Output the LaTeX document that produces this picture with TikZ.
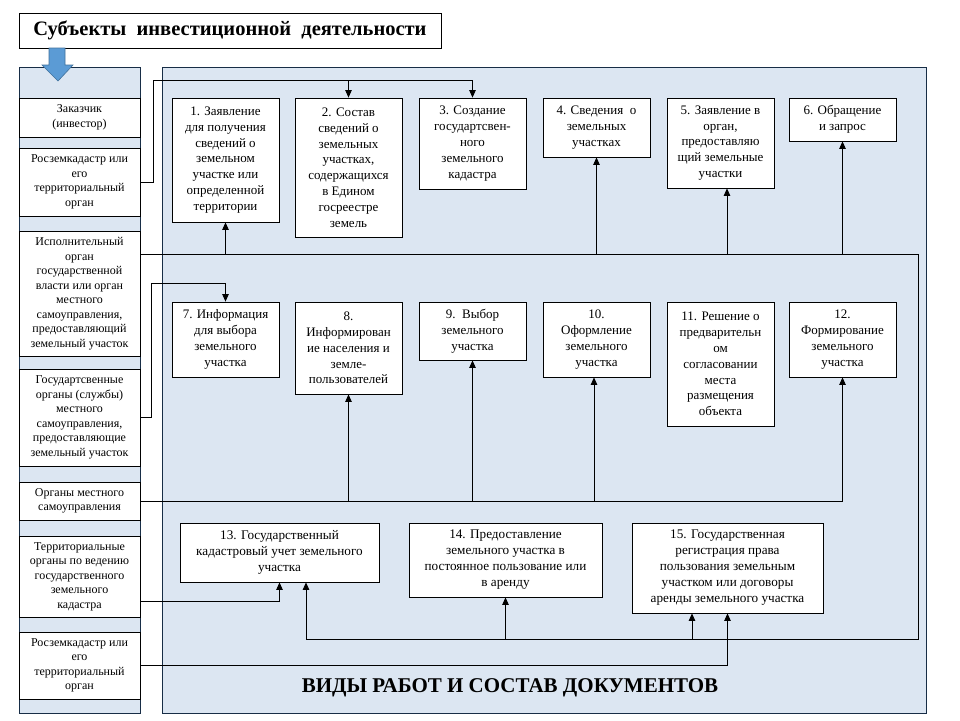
\documentclass[tikz,border=0pt]{standalone}
\usepackage{fontspec}
\setmainfont{Liberation Serif}
\usetikzlibrary{arrows.meta}
\definecolor{panelfill}{RGB}{220,230,242}
\definecolor{panelline}{RGB}{23,45,70}
\definecolor{arrfill}{RGB}{91,155,213}
\definecolor{arrline}{RGB}{65,113,156}
\begin{document}
\begin{tikzpicture}[x=1pt,y=-1pt,
  panel/.style={fill=panelfill,draw=panelline,line width=0.9pt},
  lbox/.style={draw=black,fill=white,line width=0.7pt,align=center,inner sep=0pt,minimum width=121pt,font=\fontsize{12}{14.5}\selectfont},
  wbox/.style={draw=black,fill=white,line width=0.8pt,align=center,inner sep=0pt,minimum width=107pt,font=\fontsize{13}{15.8}\selectfont},
  bbox/.style={draw=black,fill=white,line width=0.8pt,align=center,inner sep=0pt,font=\fontsize{13.2}{16}\selectfont},
  conn/.style={line width=0.8pt,draw=black},
  arr/.style={conn,-{Triangle[width=6.5pt,length=7.5pt]}}]
\useasboundingbox (0,0) rectangle (960,720);
\fill[white] (0,0) rectangle (960,720);
% panels
\draw[panel] (19,67) rectangle (140,713);
\draw[panel] (162,67) rectangle (926,713);
% title
\node[draw=black,fill=white,line width=0.8pt,minimum width=422pt,minimum height=35pt,inner sep=0pt,font=\bfseries\fontsize{20.5}{23}\selectfont] (T) at (230,30.5) {Субъекты\ \ инвестиционной\ \ деятельности};
\draw[fill=arrfill,draw=arrline,line width=0.6pt] (49,48) -- (65,48) -- (65,65) -- (73,65) -- (58,81) -- (42,65) -- (49,65) -- cycle;
% left boxes
\node[lbox,minimum height=39pt] (L1) at (79.5,117.5) {Заказчик\\(инвестор)};
\node[lbox,minimum height=68pt] (L2) at (79.5,182) {Росземкадастр или\\его\\территориальный\\орган};
\node[lbox,minimum height=125pt] (L3) at (79.5,293.5) {Исполнительный\\орган\\государственной\\власти или орган\\местного\\самоуправления,\\предоставляющий\\земельный участок};
\node[lbox,minimum height=97pt] (L4) at (79.5,417.5) {Государтсвенные\\органы (службы)\\местного\\самоуправления,\\предоставляющие\\земельный участок};
\node[lbox,minimum height=38pt] (L5) at (79.5,501) {Органы местного\\самоуправления};
\node[lbox,minimum height=81pt] (L6) at (79.5,576.5) {Территориальные\\органы по ведению\\государственного\\земельного\\кадастра};
\node[lbox,minimum height=67pt] (L7) at (79.5,665.5) {Росземкадастр или\\его\\территориальный\\орган};
% top row
\node[wbox,minimum height=124pt] (B1) at (225.5,160) {1. Заявление\\для получения\\сведений о\\земельном\\участке или\\определенной\\территории};
\node[wbox,minimum height=139pt] (B2) at (348.5,167.5) {2. Состав\\сведений о\\земельных\\участках,\\содержащихся\\в Едином\\госреестре\\земель};
\node[wbox,minimum height=91pt] (B3) at (472.5,143.5) {3. Создание\\государтсвен-\\ного\\земельного\\кадастра};
\node[wbox,minimum height=59pt] (B4) at (596.5,127.5) {4. Сведения\ \ о\\земельных\\участках};
\node[wbox,minimum height=90pt] (B5) at (720.5,143) {5. Заявление в\\орган,\\предоставляю\\щий земельные\\участки};
\node[wbox,minimum height=43pt] (B6) at (842.5,119.5) {6. Обращение\\и запрос};
% middle row
\node[wbox,minimum height=75pt] (B7) at (225.5,339.5) {7. Информация\\для выбора\\земельного\\участка};
\node[wbox,minimum height=92pt] (B8) at (348.5,348) {8.\\Информирован\\ие населения и\\земле-\\пользователей};
\node[wbox,minimum height=58pt] (B9) at (472.5,331) {9.\ \ Выбор\\земельного\\участка};
\node[wbox,minimum height=75pt] (B10) at (596.5,339.5) {10.\\Оформление\\земельного\\участка};
\node[wbox,minimum height=124pt] (B11) at (720.5,364) {11. Решение о\\предварительн\\ом\\согласовании\\места\\размещения\\объекта};
\node[wbox,minimum height=75pt] (B12) at (842.5,339.5) {12.\\Формирование\\земельного\\участка};
% bottom row
\node[bbox,minimum width=199pt,minimum height=59pt] (B13) at (279.5,552.5) {13. Государственный\\кадастровый учет земельного\\участка};
\node[bbox,minimum width=193pt,minimum height=74pt] (B14) at (505.5,560) {14. Предоставление\\земельного участка в\\постоянное пользование или\\в аренду};
\node[bbox,minimum width=191pt,minimum height=90pt] (B15) at (727.5,568) {15. Государственная\\регистрация права\\пользования земельным\\участком или договоры\\аренды земельного участка};
% bottom title
\node[font=\bfseries\fontsize{21}{24}\selectfont] (V) at (510,688) {ВИДЫ РАБОТ И СОСТАВ ДОКУМЕНТОВ};
% connectors
\coordinate (j1) at (153,80);
\draw[arr] (L2.east) -| (j1) -| (B3.north);
\draw[arr] (B2.north |- j1) -- (B2.north);
\coordinate (j2) at (918,254);
\coordinate (j3) at (918,639);
\coordinate (j4) at (306,639);
\draw[conn] (L3.east |- j2) -- (j2) -- (j3) -- (j4);
\draw[arr] (B1.south |- j2) -- (B1.south);
\draw[arr] (B4.south |- j2) -- (B4.south);
\draw[arr] ([xshift=6.5pt]B5.south |- j2) -- ([xshift=6.5pt]B5.south);
\draw[arr] (B6.south |- j2) -- (B6.south);
\draw[arr] (j4) -- (B13.south -| j4);
\draw[arr] (B14.south |- j4) -- (B14.south);
\draw[arr] ([xshift=-35.5pt]B15.south |- j4) -- ([xshift=-35.5pt]B15.south);
\coordinate (j5) at (151,283);
\draw[arr] (L4.east) -| (j5) -| (B7.north);
\draw[arr] (L5.east) -| (B12.south);
\draw[arr] (B8.south |- L5.east) -- (B8.south);
\draw[arr] (B9.south |- L5.east) -- (B9.south);
\draw[arr] ([xshift=-2.5pt]B10.south |- L5.east) -- ([xshift=-2.5pt]B10.south);
\coordinate (j6) at (279.5,601);
\draw[arr] (L6.east |- j6) -| (B13.south);
\draw[arr] (L7.east) -| (B15.south);
\end{tikzpicture}
\end{document}
